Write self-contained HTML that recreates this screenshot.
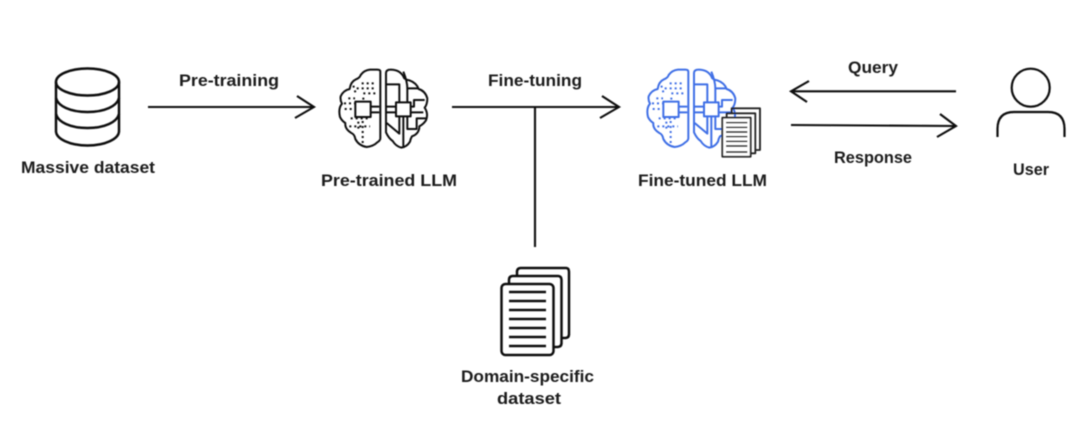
<!DOCTYPE html>
<html><head><meta charset="utf-8"><style>
html,body{margin:0;padding:0;background:#fff;width:1080px;height:423px;overflow:hidden}
svg{display:block}
text{font-family:"Liberation Sans",sans-serif;font-weight:700;font-size:16.5px;fill:#1b1b1b;stroke:none}
</style></head><body>
<svg width="1080" height="423" viewBox="0 0 1080 423" xmlns="http://www.w3.org/2000/svg">
<defs>
<filter id="b" x="-5%" y="-5%" width="110%" height="110%"><feGaussianBlur stdDeviation="0.45"/></filter>
<g id="brain" fill="none" stroke-width="6" stroke-linejoin="round">
<path d="M181 50 Q181 44 172 44 L150 44 Q132 46 122 60 Q120 68 108 73 Q92 80 89 102 Q70 106 62 124 Q60 136 66 146 Q54 160 60 186 Q66 198 76 204 Q74 222 94 234 Q104 238 106 252 Q116 272 140 276 Q160 274 172 262 Q181 256 181 250 Z"/>
<path d="M198 54 Q198 44 212 44 Q238 44 250 64 Q252 74 268 76 Q290 84 296 102 Q316 108 322 130 Q322 148 314 158 Q326 176 318 196 Q310 208 298 214 Q298 236 276 244 Q272 250 270 260 Q260 276 244 278 Q228 274 218 258 Q206 250 198 232 Z"/>
<rect x="106" y="140" width="46" height="46"/>
<rect x="228" y="142" width="44" height="42"/>
<path d="M152 155H178M152 172H178M200 155H228M200 172H228"/>
<path d="M200 88H238V142M250 50Q262 80 262 100V142M262 100H296M250 184V276M238 184V236L200 204"/>
<path d="M272 155H282V135H314M272 172H310M262 184V222H290V190H318"/>
<path stroke-dasharray="6 9" d="M125 85H170M110 100H170M130 115H170M130 128V140M85 130H105M72 145H105M74 162H100M92 190H150M88 214H150M115 200V226M128 198V268M100 92L108 118"/>
</g>
</defs>
<g filter="url(#b)">
<!-- database -->
<g fill="none" stroke="#0e0e0e" stroke-width="2.500">
<ellipse cx="87.5" cy="82" rx="31.5" ry="13.5"/>
<path d="M56 82V131C56 139 70 145.500 87.500 145.500S119 139 119 131V82"/>
<path d="M56 98C58 106 70 112 87.500 112S117 106 119 98M56 114C58 122 70 128 87.500 128S117 122 119 114"/>
</g>
<!-- arrows -->
<g fill="none" stroke="#0e0e0e" stroke-width="2.100">
<path d="M148 107H313M297 96L314 107L295 118"/>
<path d="M452 107H617M602 96L619 107L600 118"/>
<path d="M535 107V247"/>
<path d="M956 91.300H792M809 81L791 91.300L807 102"/>
<path d="M791 125L955 126M940 114L956 126L937 137"/>
</g>
<!-- brains -->
<g transform="translate(320,55) scale(.3333)" stroke="#111"><use href="#brain"/></g>
<g transform="translate(628,55) scale(.3333)" stroke="#3f6fe6"><use href="#brain"/></g>
<!-- small docs -->
<g transform="translate(630,55) scale(.3333)" fill="none" stroke="#222" stroke-width="5.500" stroke-linejoin="round">
<path d="M305 175V160H390V285H375"/>
<path d="M290 188V175H376V295H362"/>
<rect x="277" y="188" width="85" height="117" fill="#fff"/>
<path d="M288 203H352M288 217H352M288 231H352M288 245H352M288 259H352M288 273H352M288 291H352" stroke-width="5"/>
</g>
<!-- user -->
<g fill="none" stroke="#0e0e0e" stroke-width="2.200">
<circle cx="1030.700" cy="87.700" r="19"/>
<path d="M997.500 137V129Q997.500 112 1014 112H1048Q1064.500 112 1064.500 129V137"/>
</g>
<!-- large docs -->
<g fill="none" stroke="#0e0e0e" stroke-width="2.500" stroke-linejoin="round">
<path d="M517 276V272Q517 268 521 268H566Q569 268 569 272V334Q569 338 565 338H562"/>
<path d="M509 284V280Q509 276 513 276H558Q561.500 276 561.500 280V343Q561.500 347 557 347H553"/>
<rect x="501.500" y="284" width="52" height="71" rx="4"/>
<path d="M509 292H546M509 301H546M509 310H546M509 319H546M509 328H546M509 337H546M509 346H546" stroke-width="2.400"/>
</g>
<!-- labels -->
<text x="21" y="173" textLength="134" lengthAdjust="spacingAndGlyphs">Massive dataset</text>
<text x="179" y="86" textLength="100" lengthAdjust="spacingAndGlyphs">Pre-training</text>
<text x="321" y="186" textLength="136" lengthAdjust="spacingAndGlyphs">Pre-trained LLM</text>
<text x="488" y="86" textLength="94" lengthAdjust="spacingAndGlyphs">Fine-tuning</text>
<text x="638" y="186" textLength="129" lengthAdjust="spacingAndGlyphs">Fine-tuned LLM</text>
<text x="848" y="73" textLength="50" lengthAdjust="spacingAndGlyphs">Query</text>
<text x="834" y="163" textLength="78" lengthAdjust="spacingAndGlyphs">Response</text>
<text x="1013" y="175" textLength="36" lengthAdjust="spacingAndGlyphs">User</text>
<text x="461" y="382" textLength="133" lengthAdjust="spacingAndGlyphs">Domain-specific</text>
<text x="497" y="404" textLength="64" lengthAdjust="spacingAndGlyphs">dataset</text>
</g>
</svg>
</body></html>
